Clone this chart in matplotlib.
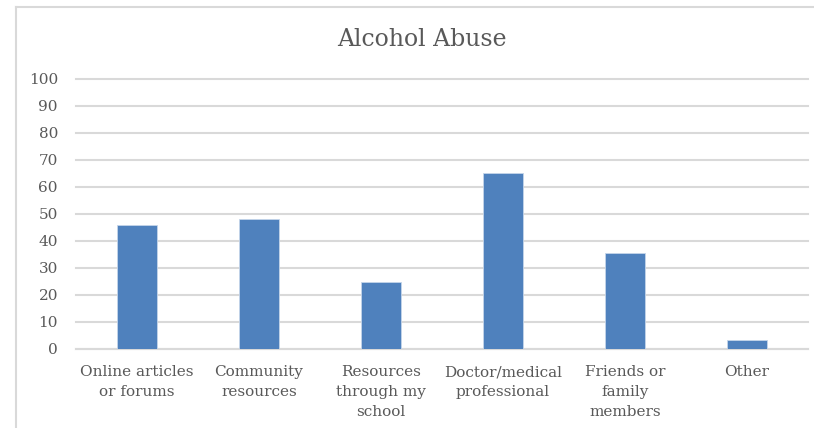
import matplotlib
matplotlib.use("Agg")
import matplotlib.pyplot as plt
from matplotlib.lines import Line2D

categories = ["Online articles\nor forums", "Community\nresources", "Resources\nthrough my\nschool",
              "Doctor/medical\nprofessional", "Friends or\nfamily\nmembers", "Other"]
values = [45.9, 48.1, 24.6, 65.0, 35.6, 3.3]
yticks = [0, 10, 20, 30, 40, 50, 60, 70, 80, 90, 100]
title = "Alcohol Abuse"

plt.rcParams['font.family'] = ['DejaVu Serif']
txt = '#595959'

fig = plt.figure(figsize=(8.14, 4.28), dpi=100)
ax = fig.add_axes([76/814, 1-348.7/428, (808-76)/814, (348.7-79)/428])

x = list(range(len(categories)))
ax.bar(x, values, width=0.33, color='#4F81BD', edgecolor='#C5D5EA', linewidth=0.6, zorder=3)
ax.set_xlim(-0.5, len(categories)-0.5)
ax.set_ylim(0, 100)
ax.set_yticks(yticks)
ax.set_yticklabels([str(v) for v in yticks])
ax.set_xticks(x)
ax.set_xticklabels(categories, linespacing=1.55)
ax.tick_params(axis='y', length=0, pad=13, labelsize=11, labelcolor=txt)
ax.tick_params(axis='x', length=0, pad=12, labelsize=11, labelcolor=txt)
ax.grid(axis='y', color='#D9D9D9', linewidth=1.5, zorder=0)
for gl in ax.yaxis.get_gridlines():
    gl.set_clip_on(False)
for s in ['top', 'right', 'left']:
    ax.spines[s].set_visible(False)
ax.spines['bottom'].set_color('#D9D9D9')
ax.spines['bottom'].set_linewidth(1.5)

fig.text(422/814, 1-40/428, title, ha='center', va='center', fontsize=17, color=txt)

fig.add_artist(Line2D([16/814, 16/814], [0, 1-7/428], transform=fig.transFigure, color='#D9D9D9', linewidth=1.5))
fig.add_artist(Line2D([16/814, 1], [1-7/428, 1-7/428], transform=fig.transFigure, color='#D9D9D9', linewidth=1.5))

fig.savefig("out.png", dpi=100)
